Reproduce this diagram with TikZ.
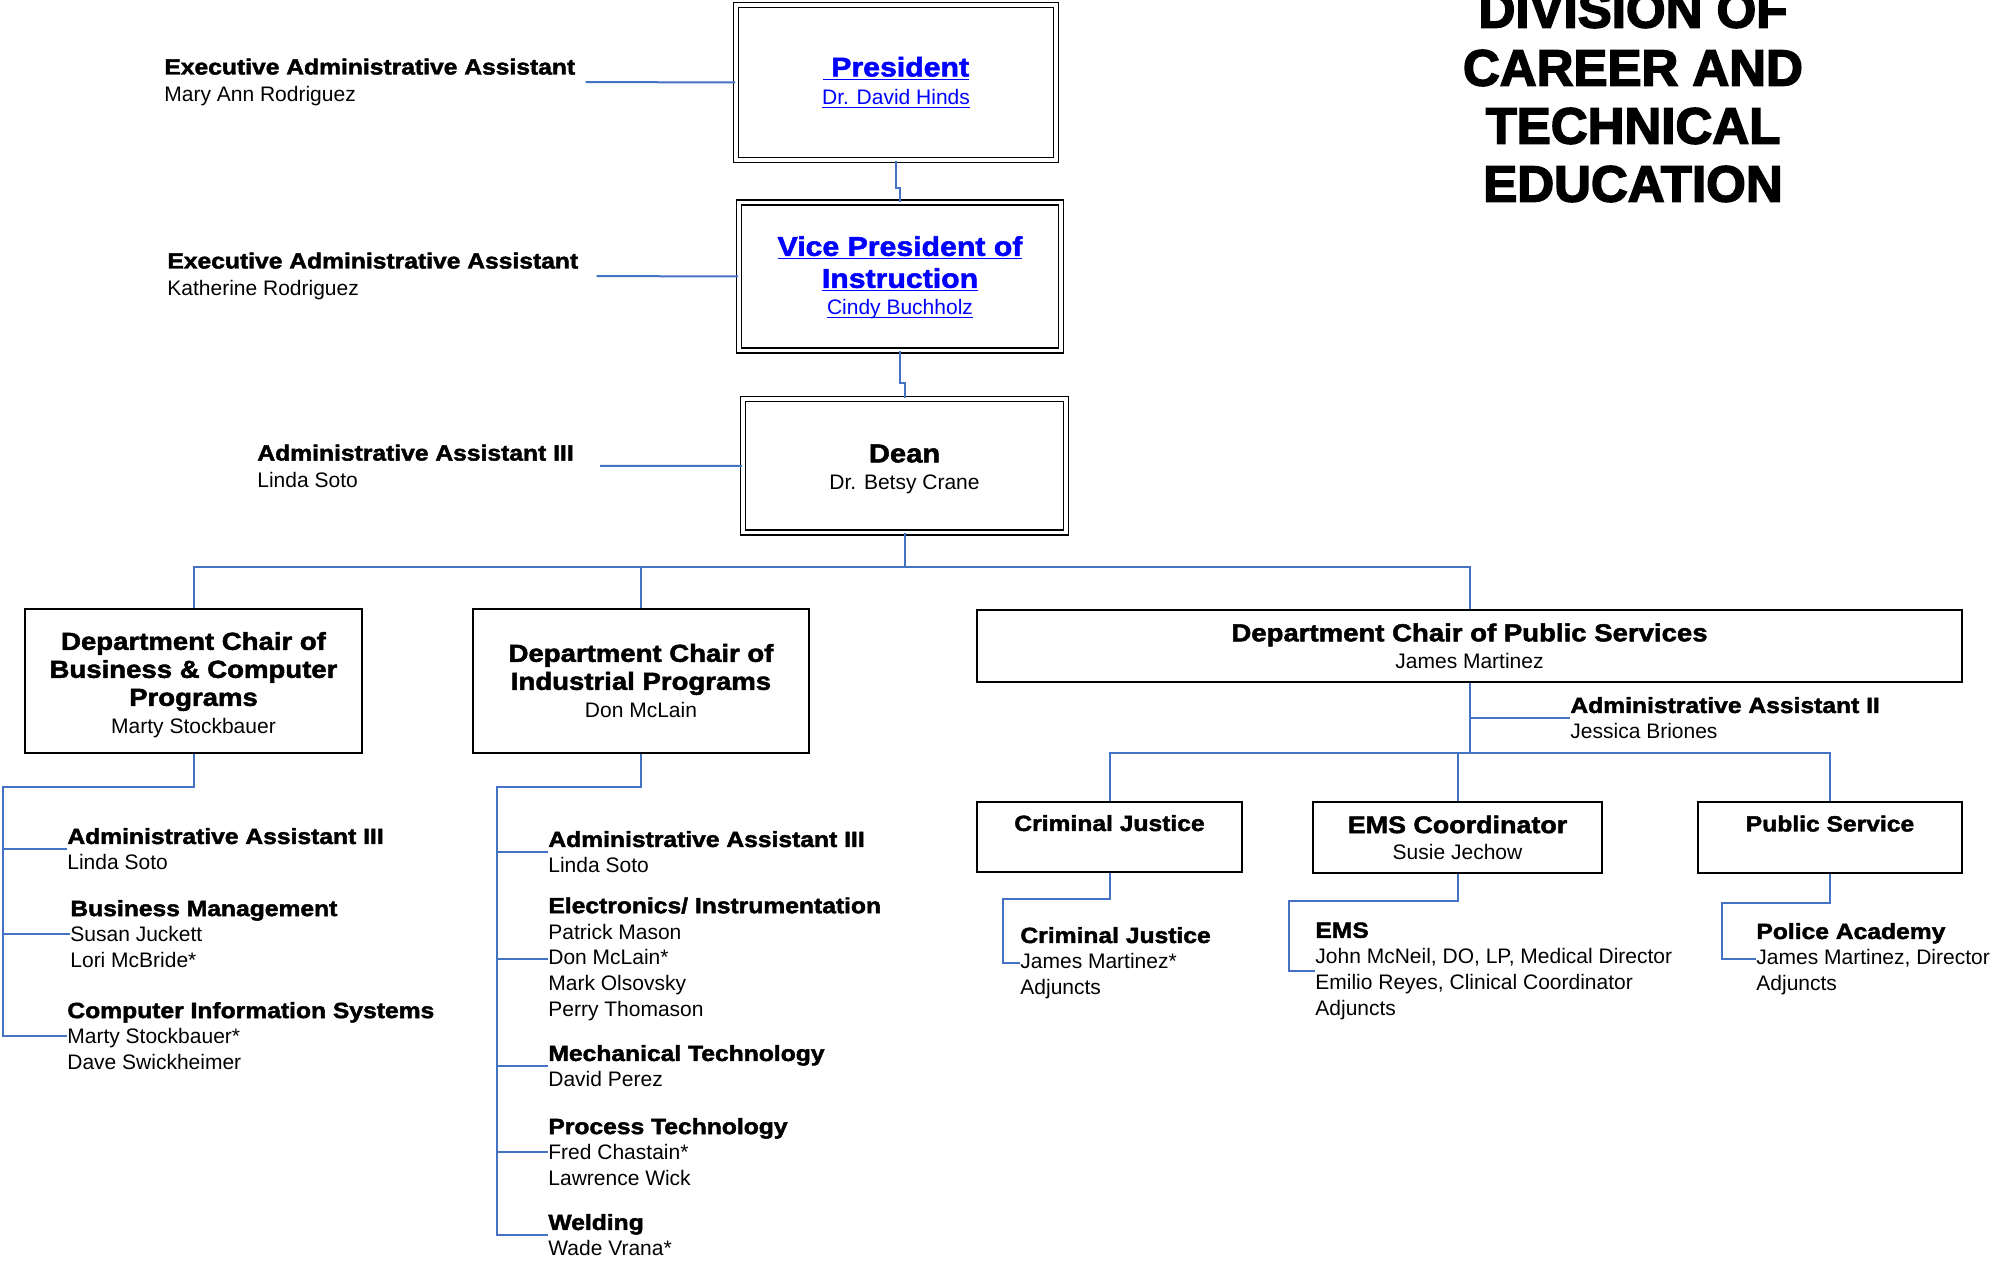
\documentclass[tikz,border=0pt]{standalone}
\usepackage{fontspec}
\setmainfont{Liberation Sans}
\newfontfamily\hdfont{Liberation Sans}[FakeStretch=1.12,FakeBold=2]
\newfontfamily\ttlfont{Liberation Sans}[FakeBold=3]
\definecolor{lineblue}{RGB}{68,114,196}
\definecolor{linkblue}{RGB}{0,0,255}
\newcommand{\hd}[2][11]{{\fontsize{#1}{14}\hdfont\bfseries #2}}
\newcommand{\lnk}[1]{\setbox0\hbox{#1}\rlap{\rule[-1.8pt]{\wd0}{0.6pt}}\box0}

\begin{document}
\begin{tikzpicture}[x=0.5pt,y=-0.5pt]
\tikzstyle{boss} = [draw=black, line width=0.8pt, double, double distance=1.6pt, align=center, inner sep=0pt, font=\fontsize{10.5}{14}\selectfont]
\tikzstyle{chair} = [draw=black, line width=1.1pt, align=center, inner sep=0pt, font=\fontsize{10.5}{14}\selectfont]
\tikzstyle{staff} = [anchor=west, align=left, inner sep=0pt, font=\fontsize{10.5}{12.9}\selectfont]
\tikzstyle{exec} = [staff, font=\fontsize{10.5}{13.3}\selectfont]
\tikzstyle{edge} = [draw=lineblue, line width=1pt]

\useasboundingbox (0,0) rectangle (2001,1261);
\fill[white] (0,0) rectangle (2001,1261);

\node[align=center, font=\fontsize{25.5}{29}\ttlfont\bfseries] (title) at (1633,97) {DIVISION OF\\CAREER AND\\TECHNICAL\\EDUCATION};

\node[boss, text=linkblue, minimum width=160pt, minimum height=77.5pt] (president) at (896,82.5) {\hd[13.5]{\lnk{\ President}}\\\lnk{Dr. David Hinds}};
\node[boss, text=linkblue, minimum width=161pt, minimum height=74pt] (vicepres) at (900,276.5) {\rule{0pt}{11pt}\hd[13.5]{\lnk{Vice President of}}\\[2pt]\hd[13.5]{\lnk{Instruction}}\\[-0.5pt]\lnk{Cindy Buchholz}};
\node[boss, minimum width=161.5pt, minimum height=66.75pt] (dean) at (904.5,465.75) {\rule{0pt}{12.3pt}\hd[13]{Dean}\\[-0.5pt]Dr. Betsy Crane};

\node[exec] (execA) at (164,82) {\hd{Executive Administrative Assistant}\\Mary Ann Rodriguez};
\node[exec] (execB) at (167,276) {\hd{Executive Administrative Assistant}\\Katherine Rodriguez};
\node[exec] (deanAsst) at (257,466) {\hd{Administrative Assistant III}\\Linda Soto};

\node[chair, minimum width=168.5pt, minimum height=72pt] (chairBus) at (193.5,681) {\rule{0pt}{13pt}\hd[12.3]{Department Chair of}\\\hd[12.3]{Business \& Computer}\\\hd[12.3]{Programs}\\Marty Stockbauer};
\node[chair, minimum width=168pt, minimum height=72pt] (chairInd) at (641,681) {\hd[12.3]{Department Chair of}\\\hd[12.3]{Industrial Programs}\\Don McLain};
\node[chair, minimum width=492.5pt, minimum height=36pt] (chairPub) at (1469.5,646) {\hd[12.3]{Department Chair of Public Services}\\[-0.5pt]James Martinez};

\node[staff] (busAsst) at (67,849) {\hd{Administrative Assistant III}\\Linda Soto};
\node[staff] (busMgmt) at (70,934) {\hd{Business Management}\\Susan Juckett\\Lori McBride*};
\node[staff] (busCIS) at (67,1036) {\hd{Computer Information Systems}\\Marty Stockbauer*\\Dave Swickheimer};

\node[staff] (indAsst) at (548,852) {\hd{Administrative Assistant III}\\Linda Soto};
\node[staff] (indElec) at (548,959) {\hd{Electronics/ Instrumentation}\\Patrick Mason\\Don McLain*\\Mark Olsovsky\\Perry Thomason};
\node[staff] (indMech) at (548,1066) {\hd{Mechanical Technology}\\David Perez};
\node[staff] (indProc) at (548,1152) {\hd{Process Technology}\\Fred Chastain*\\Lawrence Wick};
\node[staff] (indWeld) at (548,1235) {\hd{Welding}\\Wade Vrana*};

\node[staff] (pubAsst) at (1570,718) {\hd{Administrative Assistant II}\\Jessica Briones};

\node[chair, minimum width=132.5pt, minimum height=35pt] (crimJ) at (1109.5,837) {\hd{Criminal Justice}\\~};
\node[chair, minimum width=144.5pt, minimum height=35.5pt] (emsC) at (1457.5,837.5) {\hd[12]{EMS Coordinator}\\[-1pt]Susie Jechow};
\node[chair, minimum width=132pt, minimum height=35.5pt] (pubServ) at (1830,837.5) {\hd{Public Service}\\~};

\node[staff] (crimItem) at (1020,963) {\hd{Criminal Justice}\\James Martinez*\\Adjuncts};
\node[staff] (emsItem) at (1315,971) {\hd{EMS}\\John McNeil, DO, LP, Medical Director\\Emilio Reyes, Clinical Coordinator\\Adjuncts};
\node[staff] (policeItem) at (1756,959) {\hd{Police Academy}\\James Martinez, Director\\Adjuncts};

\coordinate (deanBus) at (904.5,567);
\coordinate (busTrunk) at (3,787);
\coordinate (indTrunk) at (497,787);
\coordinate (pubBus) at (1469.5,753);
\coordinate (crimKnee) at (1003,899);
\coordinate (emsKnee) at (1289,901);
\coordinate (policeKnee) at (1722,903);

\draw[edge] (president.south) -- ++(0,27) -| (vicepres.north);
\draw[edge] (vicepres.south) -- ++(0,32) -| (dean.north);
\draw[edge, shorten >=5pt] (president.west) -- (execA.east);
\draw[edge, shorten >=9pt] (vicepres.west) -- (execB.east);
\draw[edge, shorten >=13pt] (dean.west) -- (deanAsst.east);

\draw[edge] (dean.south) -- (deanBus);
\draw[edge] (chairBus.north) |- (deanBus) -| (chairPub.north);
\draw[edge] (chairInd.north) -- (chairInd.north |- deanBus);

\draw[edge] (chairBus.south) |- (busTrunk) |- (busCIS.west);
\draw[edge] (busAsst.west -| busTrunk) -- (busAsst.west);
\draw[edge] (busMgmt.west -| busTrunk) -- (busMgmt.west);

\draw[edge] (chairInd.south) |- (indTrunk) |- (indWeld.west);
\draw[edge] (indAsst.west -| indTrunk) -- (indAsst.west);
\draw[edge] (indElec.west -| indTrunk) -- (indElec.west);
\draw[edge] (indMech.west -| indTrunk) -- (indMech.west);
\draw[edge] (indProc.west -| indTrunk) -- (indProc.west);

\draw[edge] (chairPub.south) -- (pubBus);
\draw[edge] (pubAsst.west -| pubBus) -- (pubAsst.west);
\draw[edge] (crimJ.north) |- (pubBus) -| (pubServ.north);
\draw[edge] (emsC.north) -- (emsC.north |- pubBus);

\draw[edge] (crimJ.south) |- (crimKnee) |- (crimItem.west);
\draw[edge] (emsC.south) |- (emsKnee) |- (emsItem.west);
\draw[edge] (pubServ.south) |- (policeKnee) |- (policeItem.west);
\end{tikzpicture}
\end{document}
